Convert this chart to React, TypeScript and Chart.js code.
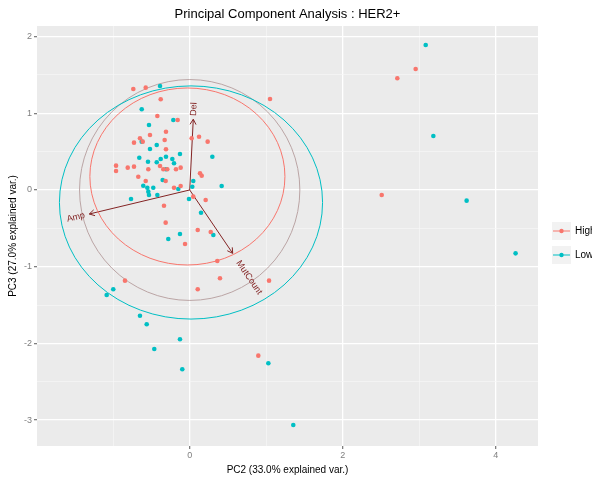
import React, { useEffect, useRef } from 'react';
import { Chart, registerables } from 'chart.js';

Chart.register(...registerables);

const chartTitle = 'Principal Component Analysis : HER2+';
const xAxisTitle = 'PC2 (33.0% explained var.)';
const yAxisTitle = 'PC3 (27.0% explained var.)';

const groupNames = ['High', 'Low'];
const groupColors = ['#F8766D', '#00BFC4'];

const highX = [-0.737, -0.575, -0.379, -0.423, -0.157, -0.31, -0.65, -0.519, -0.614, -0.728, -0.327, -0.31, 0.026, 0.122, 0.235, -0.963, -0.963, -0.81, -0.728, -0.541, -0.388, -0.345, -0.293, -0.179, -0.118, -0.672, -0.575, -0.314, -0.205, -0.118, 0.135, 0.157, -0.336, 0.209, 0.047, -0.314, 0.105, 0.275, -0.061, 0.361, -0.846, 0.396, 0.105, 1.037, 0.897, 2.954, 2.714, 1.05, 2.51];
const highY = [1.317, 1.334, 1.182, 0.965, 0.913, 0.76, 0.674, 0.717, 0.63, 0.617, 0.652, 0.531, 0.674, 0.695, 0.63, 0.317, 0.248, 0.291, 0.304, 0.27, 0.313, 0.27, 0.27, 0.27, 0.291, 0.173, 0.117, 0.117, 0.03, 0.052, 0.218, 0.186, -0.205, -0.13, -0.087, -0.426, -0.522, -0.548, -0.704, -0.926, -1.182, -1.151, -1.295, -1.182, -2.16, 1.578, 1.456, 1.186, -0.065];

const lowX = [-0.388, -0.627, -0.214, -0.532, -0.627, -0.431, -0.519, -0.127, 0.296, -0.659, -0.31, -0.379, -0.227, -0.545, -0.431, -0.205, -0.31, -0.353, 0.047, -0.607, -0.554, -0.476, -0.541, -0.532, -0.423, -0.149, 0.034, 0.418, -0.767, -0.009, 0.148, -0.127, -0.28, 0.309, -0.999, -1.085, -0.65, -0.562, -0.127, -0.463, -0.097, 1.028, 1.354, 3.085, 3.185, 3.62, 4.26];
const lowY = [1.356, 1.052, 0.913, 0.847, 0.63, 0.587, 0.535, 0.469, 0.434, 0.421, 0.434, 0.404, 0.404, 0.369, 0.361, 0.348, 0.27, 0.13, 0.117, 0.056, 0.03, 0.03, -0.022, -0.065, -0.065, 0.013, 0.043, 0.052, -0.117, -0.117, -0.296, -0.574, -0.639, -0.587, -1.295, -1.369, -1.639, -1.751, -1.947, -2.073, -2.338, -2.26, -3.064, 1.89, 0.704, -0.139, -0.826];

// Variable loadings (arrows)
const varNames = ['Del', 'Amp', 'MutCount'];
const varX = [0.047, -1.312, 0.562];
const varY = [0.922, -0.313, -0.826];

// Group ellipses (centre and semi-axes, data units)
const ellipseCenterX = [-0.03, 0.017];
const ellipseCenterY = [0.176, -0.163];
const ellipseRadiusX = [1.275, 1.72];
const ellipseRadiusY = [1.154, 1.52];

// Correlation circle radius
const circleRadius = [1.44];

// Axis ranges and labelled ticks
const xRange = [-1.996, 4.553];
const yRange = [-3.338, 2.138];
const xTickLabels = [0, 2, 4];
const yTickLabels = [-3, -2, -1, 0, 1, 2];

const FONT = "'Liberation Sans', Arial, sans-serif";
const ARROW_COLOR = '#832424';

const toPoints = (xs: number[], ys: number[]) => xs.map((x, i) => ({ x, y: ys[i] }));

const pcaPlugin = {
  id: 'pcaDecor',
  beforeDraw(chart: any) {
    const { ctx, chartArea: a } = chart;
    ctx.save();
    ctx.fillStyle = '#EBEBEB';
    ctx.fillRect(a.left, a.top, a.right - a.left, a.bottom - a.top);
    ctx.restore();
  },
  beforeDatasetsDraw(chart: any) {
    const { ctx, chartArea: a, scales } = chart;
    const xs = scales.x;
    const ys = scales.y;
    ctx.save();
    ctx.beginPath();
    ctx.rect(a.left, a.top, a.right - a.left, a.bottom - a.top);
    ctx.clip();
    // correlation circle
    const cx = xs.getPixelForValue(0);
    const cy = ys.getPixelForValue(0);
    const rx = xs.getPixelForValue(circleRadius[0]) - cx;
    const ry = cy - ys.getPixelForValue(circleRadius[0]);
    ctx.strokeStyle = '#BBA5A5';
    ctx.lineWidth = 1;
    ctx.beginPath();
    ctx.ellipse(cx, cy, rx, ry, 0, 0, Math.PI * 2);
    ctx.stroke();
    // arrows
    ctx.strokeStyle = ARROW_COLOR;
    ctx.lineWidth = 1;
    varNames.forEach((_, i) => {
      const ex = xs.getPixelForValue(varX[i]);
      const ey = ys.getPixelForValue(varY[i]);
      ctx.beginPath();
      ctx.moveTo(cx, cy);
      ctx.lineTo(ex, ey);
      ctx.stroke();
      const ang = Math.atan2(ey - cy, ex - cx);
      const len = 6;
      const spread = Math.PI / 6;
      ctx.beginPath();
      ctx.moveTo(ex - len * Math.cos(ang - spread), ey - len * Math.sin(ang - spread));
      ctx.lineTo(ex, ey);
      ctx.lineTo(ex - len * Math.cos(ang + spread), ey - len * Math.sin(ang + spread));
      ctx.stroke();
    });
    ctx.restore();
  },
  afterDatasetsDraw(chart: any) {
    const { ctx, chartArea: a, scales } = chart;
    const xs = scales.x;
    const ys = scales.y;
    ctx.save();
    ctx.beginPath();
    ctx.rect(a.left, a.top, a.right - a.left, a.bottom - a.top);
    ctx.clip();
    // group ellipses
    ellipseCenterX.forEach((_, i) => {
      const cx = xs.getPixelForValue(ellipseCenterX[i]);
      const cy = ys.getPixelForValue(ellipseCenterY[i]);
      const rx = xs.getPixelForValue(ellipseCenterX[i] + ellipseRadiusX[i]) - cx;
      const ry = cy - ys.getPixelForValue(ellipseCenterY[i] + ellipseRadiusY[i]);
      ctx.strokeStyle = groupColors[i];
      ctx.lineWidth = 1;
      ctx.beginPath();
      ctx.ellipse(cx, cy, rx, ry, 0, 0, Math.PI * 2);
      ctx.stroke();
    });
    // variable labels
    ctx.fillStyle = ARROW_COLOR;
    ctx.font = `9px ${FONT}`;
    ctx.textBaseline = 'middle';
    ctx.textAlign = 'left';
    varNames.forEach((name, i) => {
      const ex = xs.getPixelForValue(varX[i]);
      const ey = ys.getPixelForValue(varY[i]);
      const angle = Math.atan(varY[i] / varX[i]);
      const hjust = (1 - 1.5 * Math.sign(varX[i])) / 2;
      const w = ctx.measureText(name).width;
      ctx.save();
      ctx.translate(ex, ey);
      ctx.rotate(-angle);
      ctx.fillText(name, -hjust * w, 0);
      ctx.restore();
    });
    ctx.restore();
  },
  afterDraw(chart: any) {
    const { ctx, chartArea: a } = chart;
    ctx.save();
    // title
    ctx.fillStyle = '#000000';
    ctx.font = `13px ${FONT}`;
    ctx.textAlign = 'center';
    ctx.textBaseline = 'middle';
    ctx.fillText(chartTitle, (a.left + a.right) / 2, 14);
    // legend
    const kx = a.right + 14;
    groupNames.forEach((name, i) => {
      const ky = 222 + i * 24;
      ctx.fillStyle = '#F2F2F2';
      ctx.fillRect(kx, ky, 19, 18);
      ctx.strokeStyle = groupColors[i];
      ctx.lineWidth = 1;
      ctx.beginPath();
      ctx.moveTo(kx + 1, ky + 9);
      ctx.lineTo(kx + 18, ky + 9);
      ctx.stroke();
      ctx.fillStyle = groupColors[i];
      ctx.beginPath();
      ctx.arc(kx + 9.5, ky + 9, 2.2, 0, Math.PI * 2);
      ctx.fill();
      ctx.fillStyle = '#000000';
      ctx.font = `10px ${FONT}`;
      ctx.textAlign = 'left';
      ctx.textBaseline = 'middle';
      ctx.fillText(name, kx + 23, ky + 9.5);
    });
    ctx.restore();
  },
};

export default function App() {
  const canvasRef = useRef<HTMLCanvasElement | null>(null);

  useEffect(() => {
    const canvas = canvasRef.current;
    if (!canvas) return;
    const chart = new Chart(canvas, {
      type: 'scatter',
      data: {
        datasets: [
          {
            label: groupNames[0],
            data: toPoints(highX, highY),
            backgroundColor: groupColors[0],
            borderWidth: 0,
            pointRadius: 2.3,
          },
          {
            label: groupNames[1],
            data: toPoints(lowX, lowY),
            backgroundColor: groupColors[1],
            borderWidth: 0,
            pointRadius: 2.3,
          },
        ],
      },
      options: {
        responsive: false,
        animation: false,
        events: [],
        layout: { padding: { top: 26, right: 54, bottom: 0, left: 0 } },
        plugins: {
          legend: { display: false },
          title: { display: false },
          tooltip: { enabled: false },
        },
        scales: {
          x: {
            type: 'linear',
            min: xRange[0],
            max: xRange[1],
            afterFit: (s: any) => { s.height = 33; },
            border: { display: false },
            grid: {
              color: (c: any) => (xTickLabels.includes(c.tick?.value) ? '#FFFFFF' : '#F7F7F7'),
              lineWidth: (c: any) => (xTickLabels.includes(c.tick?.value) ? 1.3 : 0.7),
              tickLength: 3,
              tickColor: (c: any) => (xTickLabels.includes(c.tick?.value) ? '#7F7F7F' : 'rgba(0,0,0,0)'),
            },
            ticks: {
              stepSize: 1,
              includeBounds: false,
              autoSkip: false,
              maxRotation: 0,
              padding: 1,
              color: '#7F7F7F',
              font: { family: FONT, size: 9 },
              callback: (v: any) => (xTickLabels.includes(Number(v)) ? String(v) : ''),
            },
            title: {
              display: true,
              text: xAxisTitle,
              color: '#000000',
              font: { family: FONT, size: 10 },
              padding: { top: 0, bottom: 3 },
            },
          },
          y: {
            type: 'linear',
            min: yRange[0],
            max: yRange[1],
            afterFit: (s: any) => { s.width = 37; },
            border: { display: false },
            grid: {
              color: (c: any) => (Number.isInteger(c.tick?.value) ? '#FFFFFF' : '#F7F7F7'),
              lineWidth: (c: any) => (Number.isInteger(c.tick?.value) ? 1.3 : 0.7),
              tickLength: 3,
              tickColor: (c: any) => (Number.isInteger(c.tick?.value) ? '#7F7F7F' : 'rgba(0,0,0,0)'),
            },
            ticks: {
              stepSize: 0.5,
              includeBounds: false,
              autoSkip: false,
              padding: 2,
              color: '#7F7F7F',
              font: { family: FONT, size: 9 },
              callback: (v: any) => (yTickLabels.includes(Number(v)) ? String(v) : ''),
            },
            title: {
              display: true,
              text: yAxisTitle,
              color: '#000000',
              font: { family: FONT, size: 10 },
              padding: { top: 7, bottom: 0 },
            },
          },
        },
      },
      plugins: [pcaPlugin],
    } as any);
    return () => chart.destroy();
  }, []);

  return (
    <div style={{ position: 'absolute', left: 0, top: 0, width: 592, height: 479, background: '#FFFFFF' }}>
      <canvas ref={canvasRef} width={592} height={479} style={{ display: 'block' }} />
    </div>
  );
}
